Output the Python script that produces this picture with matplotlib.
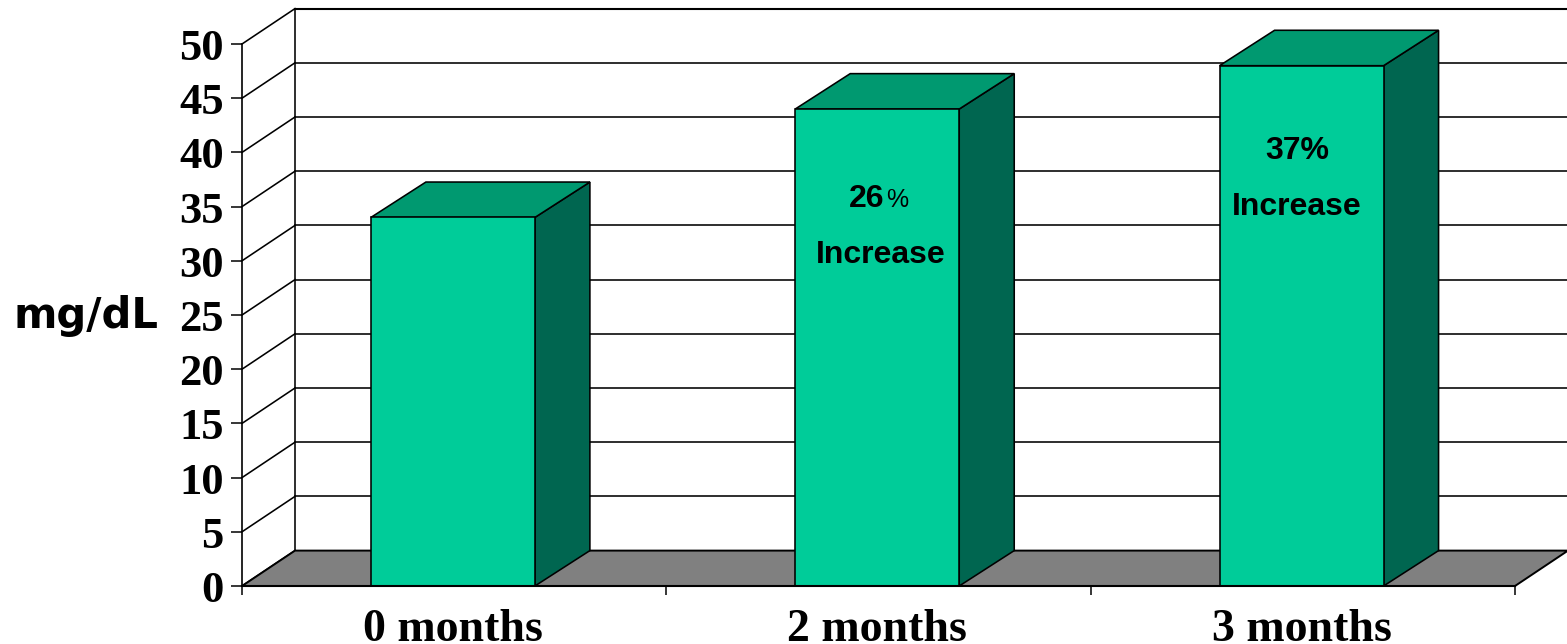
import matplotlib
matplotlib.use("Agg")
import matplotlib.pyplot as plt
from matplotlib.patches import Polygon
from matplotlib.transforms import ScaledTranslation

months = ["0 months", "2 months", "3 months"]
values = [34, 44, 48]
y_ticks = list(range(0, 55, 5))

W, H = 1567, 644
fig = plt.figure(figsize=(W / 100, H / 100), dpi=100)
ax = fig.add_axes([242 / W, 1 - 586 / H, (1515 - 242) / W, (586 - 44) / H])
ax.set_xlim(0, 3)
ax.set_ylim(0, 50)
ax.patch.set_visible(False)

# depth of the fake 3d box, in data units
dx = 53 / (1273 / 3)
dy = 35.4 / (542 / 50)
bar_dx = 55 / (1273 / 3)
bar_w = 0.3865
bar_shift = -0.003

LINE = 1.15
# back wall and side wall lines
ax.plot([dx, dx], [dy, 50 + dy], color="black", lw=LINE, clip_on=False, zorder=1)
for t in y_ticks:
    if t > 0:
        ax.plot([dx, 3.2], [t + dy, t + dy], color="black", lw=1.5 if t == 50 else LINE, clip_on=False, zorder=1)
    ax.plot([0, dx], [t, t + dy], color="black", lw=LINE, clip_on=False, zorder=1)

# floor
floor = Polygon([(0, 0), (3, 0), (3 + dx, dy), (dx, dy)], closed=True, facecolor="#808080",
                edgecolor="black", lw=1.4, clip_on=False, zorder=2)
ax.add_patch(floor)

for i, v in enumerate(values):
    l = i + 0.5 + bar_shift - bar_w / 2
    r = l + bar_w
    front = [(l, 0), (r, 0), (r, v), (l, v)]
    top = [(l, v), (r, v), (r + bar_dx, v + dy), (l + bar_dx, v + dy)]
    side = [(r, 0), (r + bar_dx, dy), (r + bar_dx, v + dy), (r, v)]
    ax.add_patch(Polygon(side, closed=True, facecolor="#006650", edgecolor="black", lw=LINE, clip_on=False, zorder=3))
    ax.add_patch(Polygon(top, closed=True, facecolor="#009970", edgecolor="black", lw=LINE, clip_on=False, zorder=3))
    ax.add_patch(Polygon(front, closed=True, facecolor="#00CC99", edgecolor="black", lw=LINE, clip_on=False, zorder=4))

# axes and ticks
for s in ["top", "right"]:
    ax.spines[s].set_visible(False)
for s in ["left", "bottom"]:
    ax.spines[s].set_zorder(5)
    ax.spines[s].set_linewidth(1.2)
ax.spines["bottom"].set_linewidth(1.5)
ax.set_yticks(y_ticks)
ax.set_xticks([0, 1, 2, 3])
ax.set_xticklabels([])
ax.tick_params(axis="y", length=7.6, width=1.1, pad=5.5)
ax.tick_params(axis="x", length=6.5, width=1.1)
label_shift = ScaledTranslation(0, -5 / 100, fig.dpi_scale_trans)
for lab in ax.get_yticklabels():
    lab.set_fontfamily("Liberation Serif")
    lab.set_fontweight("bold")
    lab.set_fontsize(32)
    lab.set_verticalalignment("center")
    lab.set_transform(lab.get_transform() + label_shift)

for i, m in enumerate(months):
    ax.text(i + 0.5 + bar_shift, -5.1, m, ha="center", va="baseline", fontsize=33, fontweight="bold",
            family="Liberation Serif", clip_on=False)

fig.text(86 / W, 1 - 316 / H, "mg/dL", ha="center", va="center", fontsize=30, fontweight="bold",
         family="DejaVu Sans")

# notes on the bars
sans = dict(family="Liberation Sans", ha="center", va="center", color="black", zorder=6)
fig.text(867 / W, 1 - 199 / H, "26", fontsize=23, fontweight="bold", **sans)
fig.text(897 / W, 1 - 200 / H, "%", fontsize=18, **sans)
fig.text(881 / W, 1 - 255 / H, "Increase", fontsize=23, fontweight="bold", **sans)
fig.text(1297 / W, 1 - 151 / H, "37%", fontsize=23, fontweight="bold", **sans)
fig.text(1297 / W, 1 - 207 / H, "Increase", fontsize=23, fontweight="bold", **sans)

fig.savefig("out.png", dpi=100)
